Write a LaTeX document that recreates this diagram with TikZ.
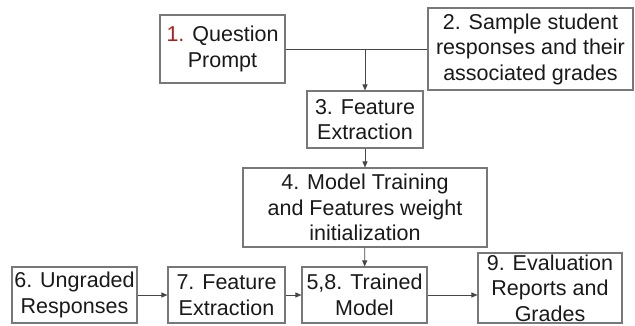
\documentclass[tikz,border=0pt]{standalone}
\usepackage{fontspec}
\setmainfont{Liberation Sans}
\usetikzlibrary{arrows.meta}
\definecolor{boxline}{RGB}{120,120,120}
\definecolor{arrline}{RGB}{70,70,70}
\definecolor{numred}{RGB}{175,30,30}
\tikzset{stagebox/.style={draw=boxline, line width=1.1pt, align=center, inner sep=0pt, text=black!90,
                font=\fontsize{21.5}{25.5}\selectfont},
         flow/.style={draw=arrline, line width=0.9pt, -{Triangle[length=6pt,width=5pt]}}}
\begin{document}
\begin{tikzpicture}[x=1pt,y=-1pt]
                \useasboundingbox (0,0) rectangle (635,325);
                \node[stagebox, minimum width=125pt, minimum height=68pt] (prompt) at (222.5,49) {{\color{numred}1.} Question\\Prompt};
                \node[stagebox, minimum width=205pt, minimum height=82pt] (samples) at (530.5,49) {2. Sample student\\responses and their\\associated grades};
                \node[stagebox, minimum width=116pt, minimum height=57pt] (extractA) at (365,119.5) {3. Feature\\Extraction};
                \node[stagebox, minimum width=244pt, minimum height=79pt] (training) at (365,207.5) {4. Model Training\\and Features weight\\initialization};
                \node[stagebox, minimum width=125pt, minimum height=56pt] (ungraded) at (74.5,295) {6. Ungraded\\Responses};
                \node[stagebox, minimum width=117pt, minimum height=56pt] (extractB) at (226.5,295) {7. Feature\\Extraction};
                \node[stagebox, minimum width=125pt, minimum height=56pt] (trained) at (364.5,295) {5,8. Trained\\Model};
                \node[stagebox, minimum width=144pt, minimum height=70pt] (reports) at (550,288) {9. Evaluation\\Reports and\\Grades};
                \coordinate (join) at (extractA.north |- prompt.east);
                \draw[draw=arrline, line width=0.9pt] (prompt.east) -- (samples.west);
                \draw[flow] (join) -- (extractA.north);
                \draw[flow] (extractA) -- (training);
                \draw[flow] (training) -- (trained);
                \draw[flow] (ungraded) -- (extractB);
                \draw[flow] (extractB) -- (trained);
                \draw[flow] (trained) -- (trained -| reports.west);
            \end{tikzpicture}
\end{document}
